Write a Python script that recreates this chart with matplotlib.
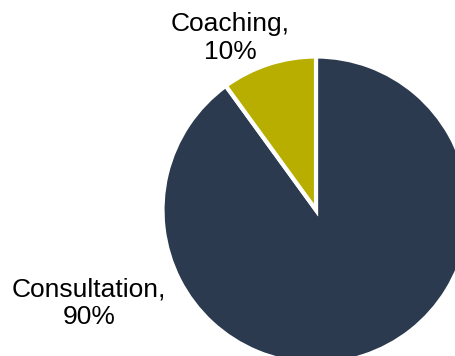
import matplotlib.pyplot as plt

labels = ["Consultation", "Coaching"]
shares = [90, 10]
colors = ["#2b3a4e", "#b8ae00"]

W, H = 455, 356
DPI = 100

plt.rcParams["font.family"] = ["Liberation Sans", "DejaVu Sans"]

fig = plt.figure(figsize=(W / DPI, H / DPI), dpi=DPI, facecolor="white")

# pie centred at (316, 210) px from top-left; it runs off the right and bottom edges.
# r includes the half of the white edge stroke that covers the rim.
cx, cy, r = 316, 210, 153.5
ax = fig.add_axes([(cx - r) / W, (H - cy - r) / H, 2 * r / W, 2 * r / H])
ax.pie(shares, colors=colors, startangle=90, counterclock=False, radius=1,
       wedgeprops=dict(edgecolor="white", linewidth=3))
ax.set_xlim(-1, 1)
ax.set_ylim(-1, 1)
ax.set_aspect("equal")
ax.axis("off")

label_pos = {"Consultation": (89, 303), "Coaching": (230, 38)}
for name, val in zip(labels, shares):
    x, y = label_pos[name]
    fig.text(x / W, 1 - y / H, f"{name},\n{val}%", ha="center", va="center",
             fontsize=19, color="black", linespacing=1.2)

fig.savefig("out.png", dpi=DPI, facecolor="white")
